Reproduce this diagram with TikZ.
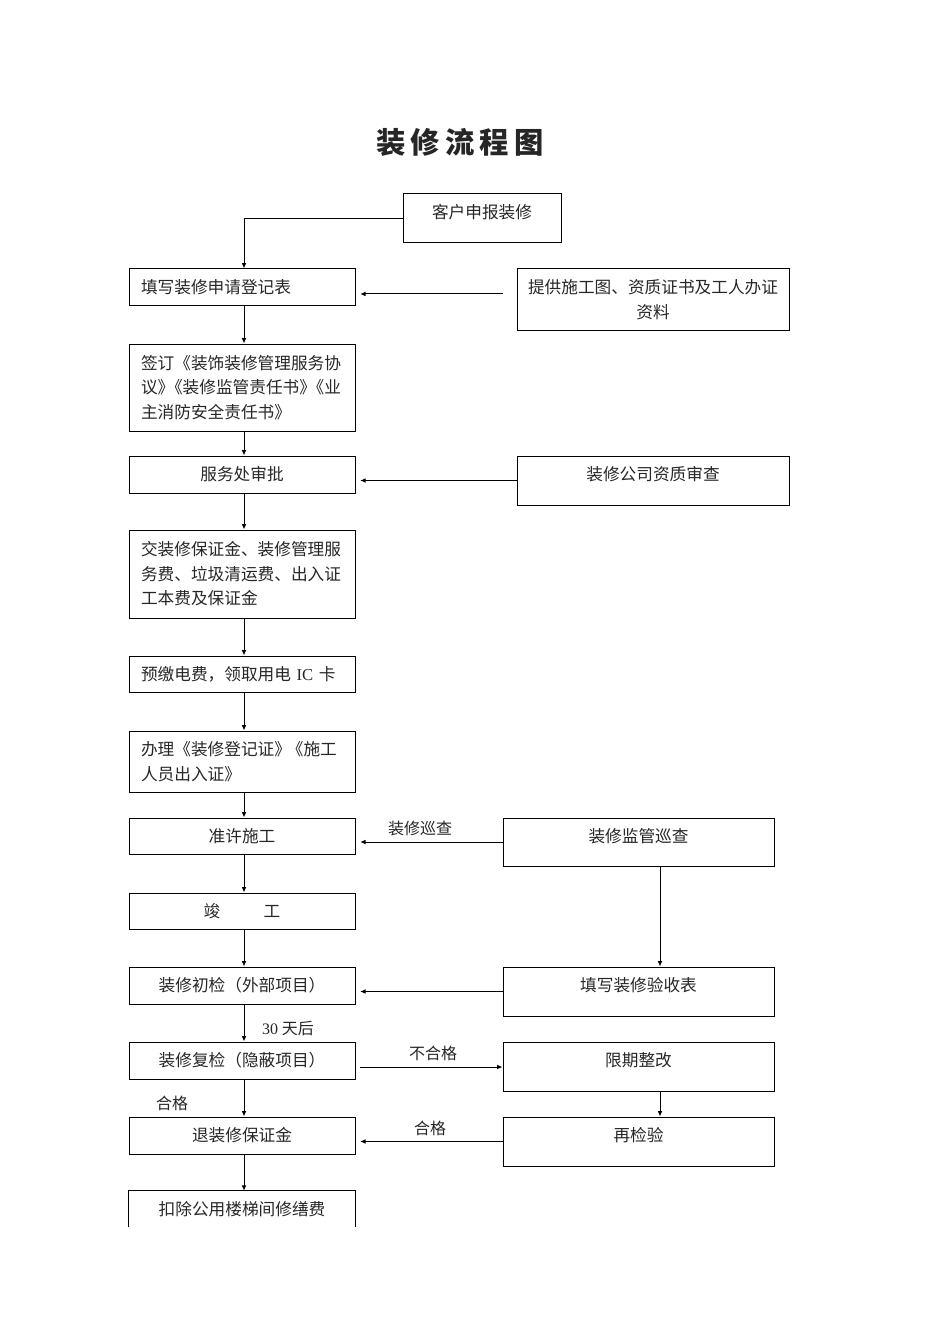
\documentclass[tikz,border=0pt]{standalone}
\usepackage{fontspec}
\setmainfont{Noto Sans CJK SC}
\newfontfamily\latf{Liberation Serif}
\usetikzlibrary{arrows.meta}
\begin{document}
\begin{tikzpicture}[x=0.75pt,y=-0.75pt,
  every node/.style={font=\fontsize{12.5pt}{18.4pt}\selectfont, inner sep=0pt, text=black!85},
  lbox/.style={draw=black, line width=0.75pt, minimum width=169.5pt},
  rbox/.style={draw=black, line width=0.75pt, minimum width=204pt},
  sbox/.style={draw=black, line width=0.75pt, minimum width=203.25pt},
  lefttext/.style={text width=151.5pt, align=left},
  arr/.style={draw=black, line width=0.75pt, -{Latex[length=4pt,width=3.5pt]}},
  harr/.style={arr, shorten >=3.5pt},
  lab/.style={font=\fontsize{12pt}{14pt}\selectfont}]
\useasboundingbox (0,0) rectangle (950,1344);

% title
\node (title) at (460,142) {\fontsize{22pt}{26pt}\selectfont\bfseries 装\hspace{4pt}修\hspace{4pt}流\hspace{4pt}程\hspace{4pt}图};

% top box
\node[draw=black, line width=0.75pt, minimum width=118.5pt, minimum height=36.75pt] (apply) at (482,218.5) {};
\node (apply-t) at ([yshift=4.5pt]apply.center) {客户申报装修};

% left column
\node[lbox, minimum height=27.75pt, lefttext] (fill) at (242,287.5) {填写装修申请登记表};
\node[lbox, minimum height=65.25pt, lefttext] (sign) at (242,387.5) {签订《装饰装修管理服务协\\议》\kern-0.5em《装修监管责任书》\kern-0.5em《业\\主消防安全责任书》};
\node[lbox, minimum height=27.75pt] (approve) at (242,474.5) {服务处审批};
\node[lbox, minimum height=66pt, lefttext] (pay) at (242,574) {交装修保证金、装修管理服\\务费、垃圾清运费、出入证\\工本费及保证金};
\node[lbox, minimum height=27pt, lefttext] (elec) at (242,674) {预缴电费，领取用电 {\latf IC} 卡};
\node[lbox, minimum height=45.75pt, lefttext] (permit) at (242,761.5) {办理《装修登记证》\kern-0.25em《施工\\人员出入证》};
\node[lbox, minimum height=27pt] (allow) at (242,836) {准许施工};
\node[lbox, minimum height=27pt] (done) at (242,911) {竣\hspace{2.6em}工};
\node[lbox, minimum height=27.75pt] (check1) at (242,985.5) {装修初检（外部项目）};
\node[lbox, minimum height=27.75pt] (check2) at (242,1060.5) {装修复检（隐蔽项目）};
\node[lbox, minimum height=27.75pt] (refund) at (242,1135.5) {退装修保证金};
\node[minimum width=169.5pt, minimum height=27pt] (deduct) at (242,1209) {扣除公用楼梯间修缮费};
\draw[line width=0.75pt] (deduct.south west) |- (deduct.north east) -- (deduct.south east);

% right column
\node[rbox, minimum height=45.75pt, align=center] (docs) at (653,299.5) {提供施工图、资质证书及工人办证\\资料};
\node[rbox, minimum height=36.75pt] (qual) at (653,480.5) {};
\node (qual-t) at ([yshift=4.5pt]qual.center) {装修公司资质审查};
\node[sbox, minimum height=36pt] (patrol) at (638.5,842) {};
\node (patrol-t) at ([yshift=4.5pt]patrol.center) {装修监管巡查};
\node[sbox, minimum height=36.75pt] (form) at (638.5,991.5) {};
\node (form-t) at ([yshift=4.5pt]form.center) {填写装修验收表};
\node[sbox, minimum height=36.75pt] (rectify) at (638.5,1066.5) {};
\node (rectify-t) at ([yshift=4.5pt]rectify.center) {限期整改};
\node[sbox, minimum height=36.75pt] (recheck) at (638.5,1141.5) {};
\node (recheck-t) at ([yshift=4.5pt]recheck.center) {再检验};

% labels
\node[lab] (l-patrol) at (420,828) {装修巡查};
\node[lab] (l-30) at (288,1028) {{\latf 30} 天后};
\node[lab] (l-fail) at (433,1053) {不合格};
\node[lab] (l-pass1) at (172,1103) {合格};
\node[lab] (l-pass2) at (430,1128) {合格};

% coordinates
\coordinate (docsA) at (503,294);
\coordinate (c2A) at (360,1067);
\coordinate (patB) at (660,0);

% connectors
\draw[arr] (apply.west) -| ([xshift=1.5pt]fill.north);
\draw[arr] ([xshift=1.5pt]fill.south) -- ([xshift=1.5pt]sign.north);
\draw[arr] ([xshift=1.5pt]sign.south) -- ([xshift=1.5pt]approve.north);
\draw[arr] ([xshift=1.5pt]approve.south) -- ([xshift=1.5pt]pay.north);
\draw[arr] ([xshift=1.5pt]pay.south) -- ([xshift=1.5pt]elec.north);
\draw[arr] ([xshift=1.5pt]elec.south) -- ([xshift=1.5pt]permit.north);
\draw[arr] ([xshift=1.5pt]permit.south) -- ([xshift=1.5pt]allow.north);
\draw[arr] ([xshift=1.5pt]allow.south) -- ([xshift=1.5pt]done.north);
\draw[arr] ([xshift=1.5pt]done.south) -- ([xshift=1.5pt]check1.north);
\draw[arr] ([xshift=1.5pt]check1.south) -- ([xshift=1.5pt]check2.north);
\draw[arr] ([xshift=1.5pt]check2.south) -- ([xshift=1.5pt]refund.north);
\draw[arr] ([xshift=1.5pt]refund.south) -- ([xshift=1.5pt]deduct.north);

\draw[harr] (docsA) -- (docsA -| fill.east);
\draw[harr] (qual.west) -- (qual.west -| approve.east);
\draw[harr] (patrol.west) -- (patrol.west -| allow.east);
\draw[harr] (form.west) -- (form.west -| check1.east);
\draw[arr] (c2A) -- (c2A -| rectify.west);
\draw[harr] (recheck.west) -- (recheck.west -| refund.east);

\draw[arr] (patrol.south -| patB) -- (form.north -| patB);
\draw[arr] (rectify.south -| patB) -- (recheck.north -| patB);
\end{tikzpicture}
\end{document}
